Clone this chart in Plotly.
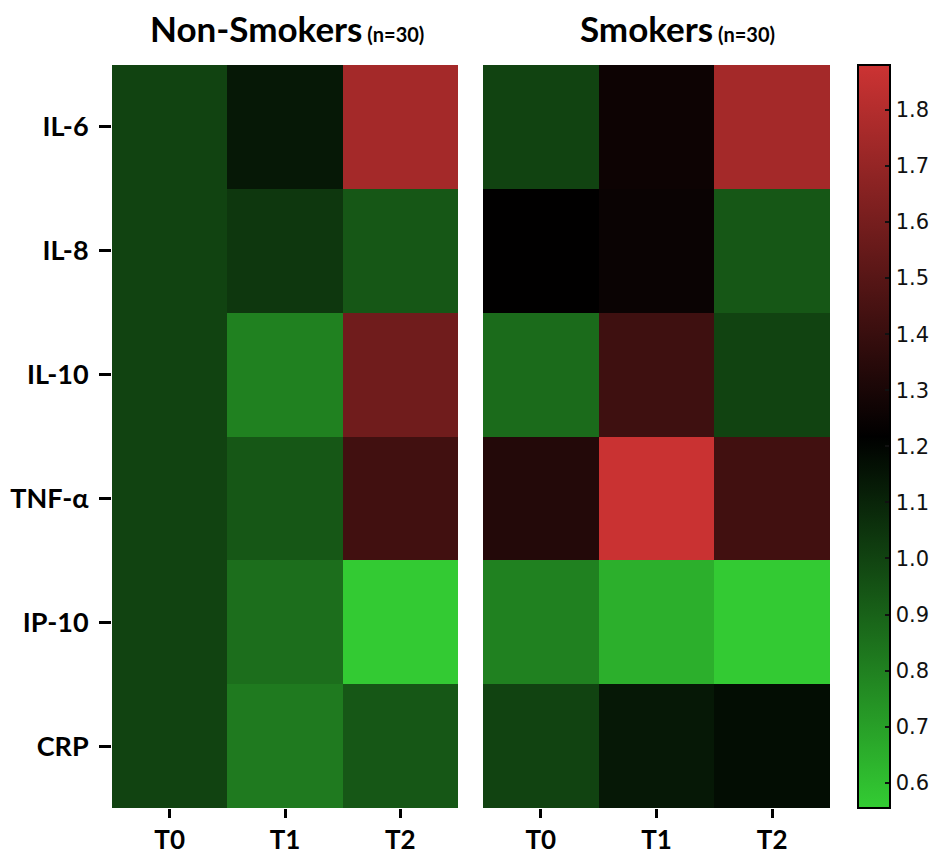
import plotly.graph_objects as go

markers = ["IL-6", "IL-8", "IL-10", "TNF-α", "IP-10", "CRP"]
timepoints = ["T0", "T1", "T2"]

nonsmokers_T0 = [1.00, 1.00, 1.00, 1.00, 1.00, 1.00]
nonsmokers_T1 = [1.14, 1.04, 0.80, 0.935, 0.86, 0.82]
nonsmokers_T2 = [1.75, 0.935, 1.58, 1.43, 0.56, 0.935]

smokers_T0 = [1.00, 1.22, 0.87, 1.33, 0.80, 1.00]
smokers_T1 = [1.26, 1.25, 1.42, 1.87, 0.65, 1.14]
smokers_T2 = [1.75, 0.935, 1.00, 1.43, 0.56, 1.175]

colorbar_ticks = [0.6, 0.7, 0.8, 0.9, 1.0, 1.1, 1.2, 1.3, 1.4, 1.5, 1.6, 1.7, 1.8]

ZMIN, ZMAX = 0.555, 1.88

def grid(*cols):
    return [[c[i] for c in cols] for i in range(len(markers))]

# page has an 8px body margin; figure coordinates are page coordinates minus 8
W, H = 922, 847
def px(x):
    return (x - 8) / W
def py(y):
    return 1 - (y - 8) / H

fig = go.Figure()
fig.add_trace(go.Heatmap(
    z=grid(nonsmokers_T0, nonsmokers_T1, nonsmokers_T2),
    x=timepoints, y=markers, coloraxis="coloraxis",
    xaxis="x", yaxis="y"))
fig.add_trace(go.Heatmap(
    z=grid(smokers_T0, smokers_T1, smokers_T2),
    x=timepoints, y=markers, coloraxis="coloraxis",
    xaxis="x2", yaxis="y2"))

y0, y1 = py(808), py(65)
axfont = dict(family="Lato, Open Sans, sans-serif", size=27, color="#000",
              weight="bold")
xfont = dict(family="Lato, Open Sans, sans-serif", size=26, color="#000",
             weight="bold")
fig.update_layout(
    width=W, height=H,
    margin=dict(l=0, r=0, t=0, b=0, autoexpand=False),
    paper_bgcolor="white", plot_bgcolor="white",
    xaxis=dict(domain=[px(112), px(458)], anchor="y", ticks="outside", ticklen=9,
               tickwidth=3, tickcolor="#000", tickfont=xfont, showgrid=False,
               zeroline=False, ticklabelstandoff=0, automargin=False),
    yaxis=dict(domain=[y0, y1], anchor="x", autorange="reversed", ticks="outside",
               ticklen=12, tickwidth=3, tickcolor="#000", tickfont=axfont,
               showgrid=False, zeroline=False, ticklabelstandoff=5, automargin=False),
    xaxis2=dict(domain=[px(483), px(830)], anchor="y2", ticks="outside", ticklen=9,
                tickwidth=3, tickcolor="#000", tickfont=xfont, showgrid=False,
                zeroline=False, ticklabelstandoff=0, automargin=False),
    yaxis2=dict(domain=[y0, y1], anchor="x2", autorange="reversed",
                showticklabels=False, ticks="", showgrid=False, zeroline=False,
                automargin=False),
    coloraxis=dict(
        cmin=ZMIN, cmax=ZMAX,
        colorscale=[[0, "#33cc33"], [0.5, "#000000"], [1, "#cc3333"]],
        colorbar=dict(
            x=px(858), xanchor="left", y=y0, yanchor="bottom",
            len=y1 - y0, lenmode="fraction", thickness=32,
            thicknessmode="pixels", xpad=0, ypad=0,
            outlinewidth=2, outlinecolor="#000",
            tickvals=colorbar_ticks, tickformat=".1f",
            tickprefix="\u00a0",
            ticks="inside", ticklen=6, tickwidth=2, tickcolor="#111",
            tickfont=dict(family="DejaVu Sans, sans-serif", size=21, color="#111"),
        ),
    ),
)

tfont = dict(family="Lato, Open Sans, sans-serif", size=35, color="#000")
fig.add_annotation(x=px(287), y=py(28), xref="paper", yref="paper",
                   text="<b>Non-Smokers</b><span style='font-size:20px'><b> (n=30)</b></span>",
                   showarrow=False, font=tfont, xanchor="center", yanchor="middle")
fig.add_annotation(x=px(677), y=py(28), xref="paper", yref="paper",
                   text="<b>Smokers</b><span style='font-size:20px'><b> (n=30)</b></span>",
                   showarrow=False, font=tfont, xanchor="center", yanchor="middle")

fig.write_html("out.html")
